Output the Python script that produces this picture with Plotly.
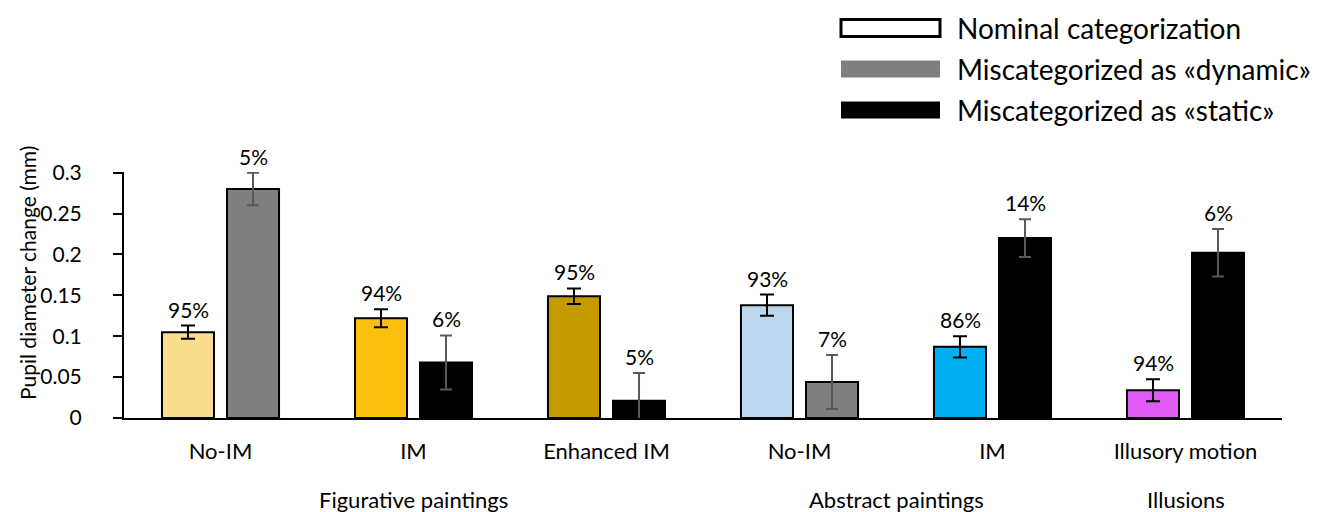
import plotly.graph_objects as go

# ---- data ----
conditions = ["No-IM", "IM", "Enhanced IM", "No-IM", "IM", "Illusory motion"]
groups = ["Figurative paintings", "Abstract paintings", "Illusions"]
group_pos = [1, 3.5, 5]

nominal_vals = [0.105, 0.122, 0.149, 0.138, 0.087, 0.034]
nominal_err = [0.008, 0.011, 0.0095, 0.013, 0.013, 0.0135]
nominal_pct = ["95%", "94%", "95%", "93%", "86%", "94%"]
nominal_colors = ["#F9DC8C", "#FBC00E", "#C49A00", "#BDD7EE", "#00AFEF", "#E05BF7"]

mis_vals = [0.280, 0.068, 0.021, 0.044, 0.220, 0.202]
mis_err = [0.020, 0.033, 0.034, 0.033, 0.023, 0.029]
mis_pct = ["5%", "6%", "5%", "7%", "14%", "6%"]
mis_colors = ["#7F7F7F", "#000000", "#000000", "#7F7F7F", "#000000", "#000000"]

legend_labels = ["Nominal categorization", "Miscategorized as «dynamic»", "Miscategorized as «static»"]
legend_fill = ["#FFFFFF", "#7F7F7F", "#000000"]
legend_line = ["#000000", "#7F7F7F", "#000000"]

yticks = [0, 0.05, 0.1, 0.15, 0.2, 0.25, 0.3]
ytext = ["0", "0.05", "0.1", "0.15", "0.2", "0.25", "0.3"]
y_title = "Pupil diameter change (mm)"

FONT = "Lato"
PAGE_OFF = 8  # page body margin
W, H = 1334 - PAGE_OFF, 512 - PAGE_OFF
ML, MT = 124 - PAGE_OFF, 172 - PAGE_OFF
MR, MB = 52, 94
x_idx = list(range(len(conditions)))

fig = go.Figure()
fig.add_trace(go.Bar(
    x=x_idx, y=nominal_vals, showlegend=False,
    marker=dict(color=nominal_colors, line=dict(color="#000000", width=2)),
    error_y=dict(type="data", array=nominal_err, visible=True,
                 color="#000000", thickness=2, width=7),
))
fig.add_trace(go.Bar(
    x=x_idx, y=mis_vals, showlegend=False,
    marker=dict(color=mis_colors, line=dict(color="#000000", width=2)),
    error_y=dict(type="data", array=mis_err, visible=True,
                 color="#595959", thickness=2, width=6),
))


# pixel (screen) -> paper helpers
def px_x(px):
    return (px - PAGE_OFF - ML) / (W - ML - MR)


def px_y(py):
    return (H - MB - (py - PAGE_OFF)) / (H - MT - MB)


annotations = []
for i in x_idx:
    annotations.append(dict(x=i, y=nominal_vals[i] + nominal_err[i], xref="x", yref="y",
                            text=nominal_pct[i], showarrow=False, xshift=-32.5, yshift=2,
                            yanchor="bottom", font=dict(family=FONT, size=21, color="#000")))
    annotations.append(dict(x=i, y=mis_vals[i] + mis_err[i], xref="x", yref="y",
                            text=mis_pct[i], showarrow=False, xshift=32.5, yshift=2,
                            yanchor="bottom", font=dict(family=FONT, size=21, color="#000")))
for g, gx in zip(groups, group_pos):
    annotations.append(dict(x=gx, y=px_y(499), xref="x", yref="paper", text=g,
                            showarrow=False, yanchor="middle",
                            font=dict(family=FONT, size=22, color="#000")))

# y-axis title
annotations.append(dict(x=px_x(27), y=px_y(273), xref="paper", yref="paper", text=y_title,
                        showarrow=False, textangle=-90, xanchor="center", yanchor="middle",
                        font=dict(family=FONT, size=21, color="#000")))

shapes = []
row_y = [28, 69, 110]
for lab, fc, lc, ry in zip(legend_labels, legend_fill, legend_line, row_y):
    shapes.append(dict(type="rect", xref="paper", yref="paper",
                       x0=px_x(841), x1=px_x(940), y0=px_y(ry + 8.5), y1=px_y(ry - 8.5),
                       fillcolor=fc, line=dict(color=lc, width=3 if fc == "#FFFFFF" else 0)))
    annotations.append(dict(x=px_x(955), y=px_y(ry), xref="paper", yref="paper", text=lab,
                            showarrow=False, xanchor="left", yanchor="middle",
                            font=dict(family=FONT, size=28, color="#000")))

fig.update_layout(
    width=W, height=H,
    margin=dict(l=ML, r=MR, t=MT, b=MB),
    paper_bgcolor="white", plot_bgcolor="white",
    barmode="group", bargap=0.326, bargroupgap=0.2,
    annotations=annotations, shapes=shapes,
    font=dict(family=FONT, color="#000"),
)
fig.update_xaxes(
    range=[-0.5, 5.5], tickvals=x_idx, ticktext=conditions,
    showline=True, linecolor="#000000", linewidth=2, ticks="",
    showgrid=False, zeroline=False, ticklabelstandoff=13,
    tickfont=dict(family=FONT, size=22, color="#000"),
)
fig.update_yaxes(
    range=[0, 0.3008], tickvals=yticks, ticktext=ytext,
    showline=True, linecolor="#000000", linewidth=2,
    ticks="outside", ticklen=9, tickwidth=2, tickcolor="#000000",
    showgrid=False, zeroline=False, ticklabelstandoff=27,
    tickfont=dict(family=FONT, size=21, color="#000"),
)

fig.write_html("out.html")
